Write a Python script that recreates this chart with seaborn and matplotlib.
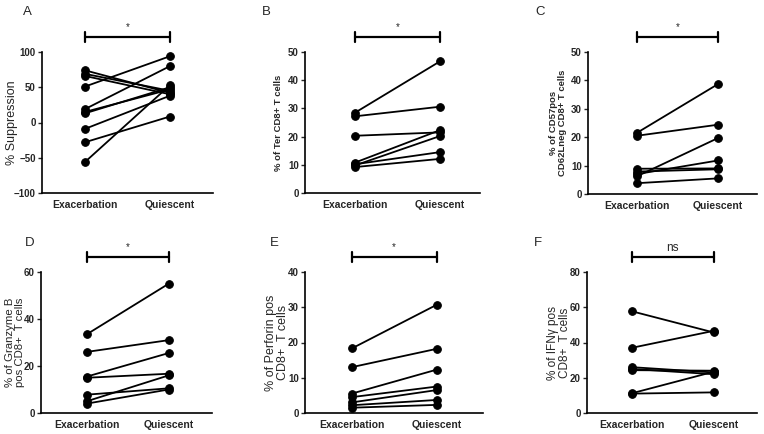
import numpy as np
import pandas as pd
import matplotlib
matplotlib.use("Agg")
import matplotlib.pyplot as plt
from matplotlib import font_manager
import seaborn as sns

sns.set_theme(style="ticks")
plt.rcParams['font.family'] = ['Liberation Sans', 'DejaVu Sans']

names = {f.name for f in font_manager.fontManager.ttflist}
NARROW = ['Liberation Sans Narrow', 'Liberation Sans', 'DejaVu Sans'] if 'Liberation Sans Narrow' in names else ['Liberation Sans', 'DejaVu Sans']

groups = ["Exacerbation", "Quiescent"]

# Panel values (paired per subject)
a_exac = [74, 69, 66, 51, 19, 15, 13, -9, -28, -56]
a_quie = [42, 45, 40, 94, 80, 47, 50, 38, 8.5, 53]

b_exac = [28.5, 27.2, 20.3, 10.8, 9.8, 10.2, 9.2]
b_quie = [46.7, 30.6, 21.5, 22.3, 20.2, 14.5, 12.1]

c_exac = [21.5, 20.5, 8.9, 7.9, 7.0, 6.2, 3.8]
c_quie = [38.7, 24.4, 9.0, 8.7, 11.8, 19.7, 5.5]

d_exac = [33.5, 26.0, 15.5, 15.0, 7.8, 5.0, 4.0]
d_quie = [55.0, 31.0, 25.5, 16.7, 10.5, 16.0, 10.0]

e_exac = [18.3, 13.0, 5.5, 4.5, 3.0, 2.2, 1.5]
e_quie = [30.7, 18.2, 12.3, 7.5, 6.5, 3.7, 2.3]

f_exac = [57.7, 37.0, 26.0, 25.0, 24.3, 11.2, 11.0]
f_quie = [45.7, 46.6, 23.0, 22.0, 24.0, 23.4, 11.7]

panels = [
    dict(letter="A", exac=a_exac, quie=a_quie, ylim=(-100, 100), yticks=[-100, -50, 0, 50, 100],
         ylabel="% Suppression", sig="*", ylfs=9, ylw="normal"),
    dict(letter="B", exac=b_exac, quie=b_quie, ylim=(0, 50), yticks=[0, 10, 20, 30, 40, 50],
         ylabel="% of Ter CD8+ T cells", sig="*", ylfs=6.8, ylw="bold"),
    dict(letter="C", exac=c_exac, quie=c_quie, ylim=(0, 50), yticks=[0, 10, 20, 30, 40, 50],
         ylabel="% of CD57pos\nCD62Lneg CD8+ T cells", sig="*", ylfs=6.8, ylw="bold"),
    dict(letter="D", exac=d_exac, quie=d_quie, ylim=(0, 60), yticks=[0, 20, 40, 60],
         ylabel="% of Granzyme B\npos CD8+  T cells", sig="*", ylfs=8.2, ylw="normal"),
    dict(letter="E", exac=e_exac, quie=e_quie, ylim=(0, 40), yticks=[0, 10, 20, 30, 40],
         ylabel="% of Perforin pos\nCD8+  T cells", sig="*", ylfs=9, ylw="normal"),
    dict(letter="F", exac=f_exac, quie=f_quie, ylim=(0, 80), yticks=[0, 20, 40, 60, 80],
         ylabel="% of IFN\u03b3 pos\nCD8+  T cells", sig="ns", ylfs=8.5, ylw="normal"),
]

W, H = 764, 434
# pixel layout: x_left, x_right, y_top, y_bottom, xlim, letter position, ylabel right-edge offset
layout = [
    (42, 213, 52, 193, (-0.506, 1.506), (27, 12), 24),
    (305, 480, 52, 193, (-0.59, 1.47), (266, 12), 22),
    (588, 757, 52, 194, (-0.6, 1.48), (540, 12), 21),
    (41, 212, 272, 413, (-0.56, 1.53), (30, 243), 16),
    (305, 483, 272, 413, (-0.55, 1.545), (274, 243), 16),
    (587, 757, 272, 413, (-0.55, 1.53), (538, 243), 16),
]

fig = plt.figure(figsize=(W / 100, H / 100), dpi=100)
fig.patch.set_facecolor("white")

for p, (xl, xr, yt, yb, xlim, lpos, loff) in zip(panels, layout):
    ax = fig.add_axes([xl / W, (H - yb) / H, (xr - xl) / W, (yb - yt) / H])
    n = len(p["exac"])
    df = pd.DataFrame({
        "subject": list(range(n)) * 2,
        "group": [groups[0]] * n + [groups[1]] * n,
        "value": list(p["exac"]) + list(p["quie"]),
    })
    sns.lineplot(data=df, x="group", y="value", units="subject", estimator=None,
                 color="black", linewidth=1.3, marker="o", markersize=5.5,
                 markeredgecolor="black", markerfacecolor="black", ax=ax,
                 sort=False)
    ax.set_xlim(*xlim)
    ax.set_ylim(*p["ylim"])
    ax.set_yticks(p["yticks"])
    ax.set_xticks([0, 1])
    ax.set_xticklabels(groups)
    ax.set_facecolor("white")
    sns.despine(ax=ax)
    for s in ["left", "bottom"]:
        ax.spines[s].set_linewidth(1.2)
        ax.spines[s].set_color("black")
    ax.tick_params(axis="y", length=3, width=1, pad=1.5, labelsize=7)
    ax.tick_params(axis="x", length=0, pad=5, labelsize=7.5)
    for lab in ax.get_yticklabels() + ax.get_xticklabels():
        lab.set_fontweight("bold")
        lab.set_family(NARROW)
    ax.set_xlabel("")
    ax.set_ylabel(p["ylabel"], fontsize=p["ylfs"], fontweight=p["ylw"],
                  linespacing=1.05)
    ax.yaxis.set_label_coords(-loff / (xr - xl), 0.5)
    hpx = yb - yt
    tr = ax.get_xaxis_transform()
    by = 1 + 15 / hpx
    dy = 5 / hpx
    ax.plot([0, 1], [by, by], color="black", lw=1.6, transform=tr, clip_on=False)
    ax.plot([0, 0], [by - dy, by + dy], color="black", lw=1.6, transform=tr, clip_on=False)
    ax.plot([1, 1], [by - dy, by + dy], color="black", lw=1.6, transform=tr, clip_on=False)
    if p["sig"] == "*":
        ax.text(0.5, by + 5 / hpx, "*", transform=tr, ha="center", va="bottom", fontsize=7)
    else:
        ax.text(0.5, by + 3 / hpx, "ns", transform=tr, ha="center", va="bottom", fontsize=8.5,
                family=NARROW)
    fig.text(lpos[0] / W, 1 - lpos[1] / H, p["letter"], fontsize=9.5, ha="center", va="center")

fig.savefig("out.png", dpi=100, facecolor="white")
